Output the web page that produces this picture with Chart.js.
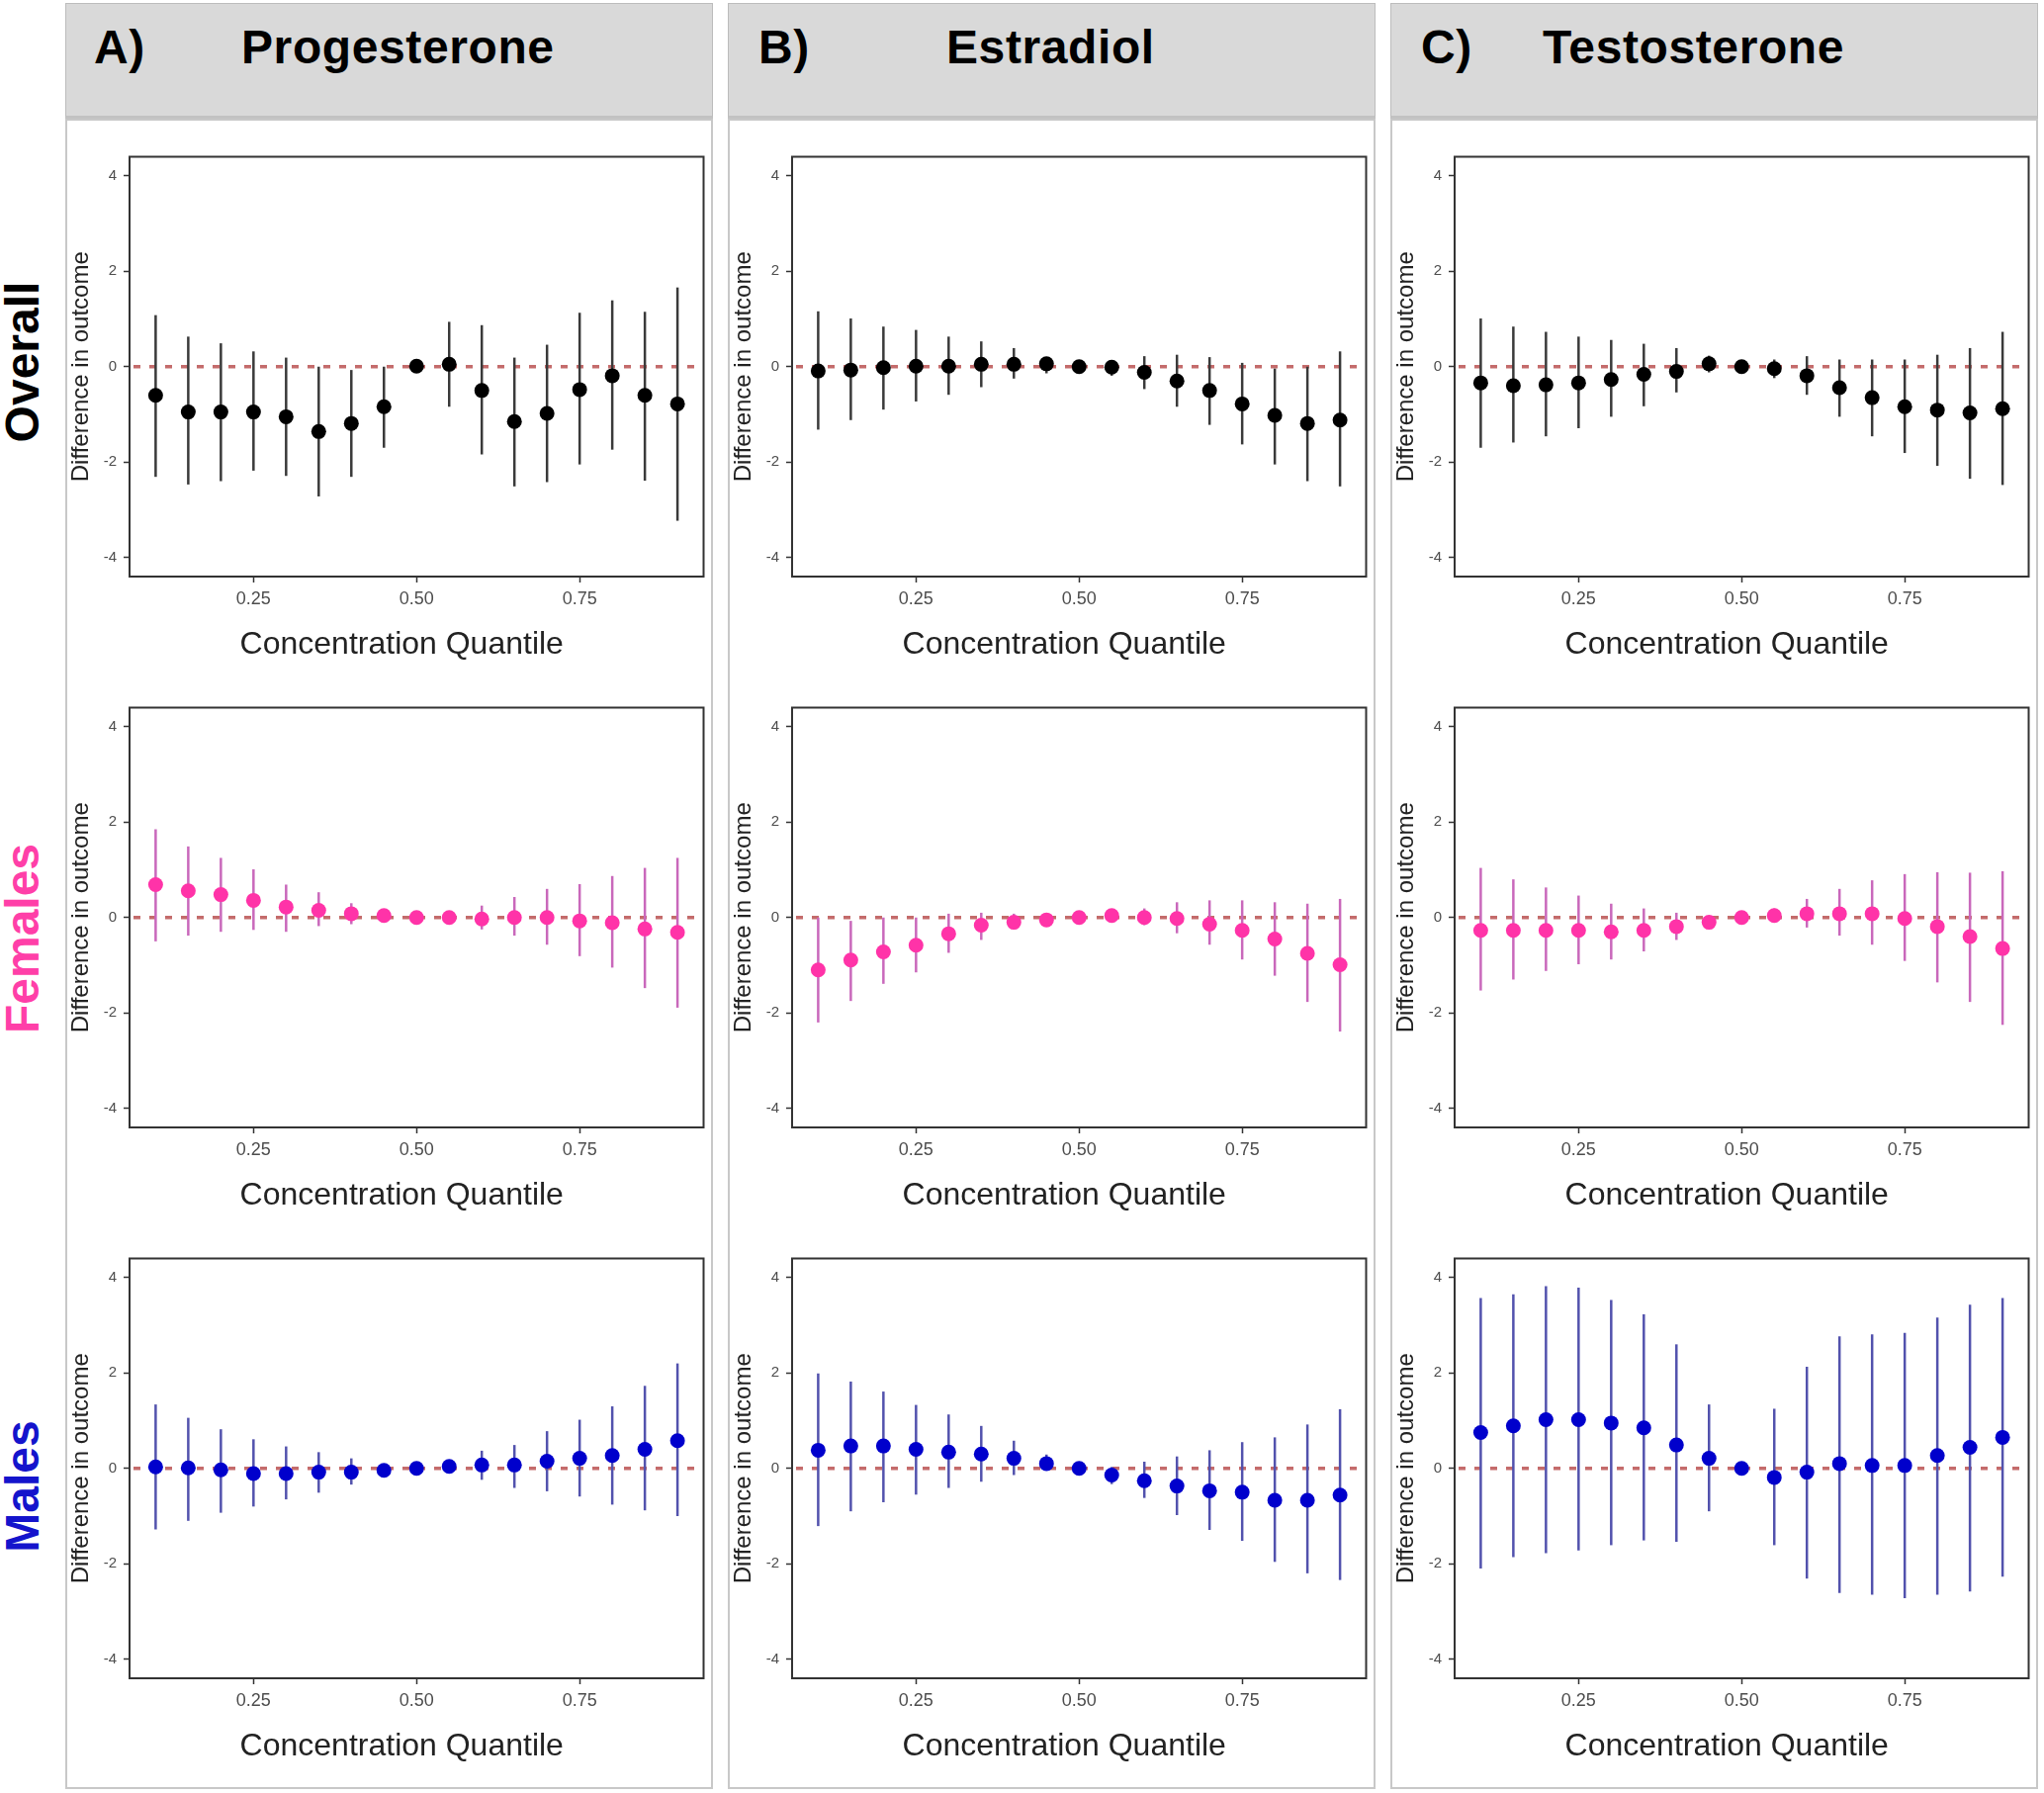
<!DOCTYPE html>
<html>
<head>
<meta charset="utf-8">
<title>Hormone quantile effects</title>
<script src="https://cdn.jsdelivr.net/npm/chart.js@4.4.1/dist/chart.umd.min.js"></script>
<style>
  body {
    margin: 0;
    width: 2067px;
    height: 1813px;
    position: relative;
    overflow: hidden;
    background: #fff;
    font-family: "Liberation Sans", Arial, sans-serif;
  }
  .head {
    position: absolute;
    top: 3px;
    width: 653px;
    height: 113px;
    background: #d9d9d9;
    border: 1px solid #bcbcbc;
    border-bottom: 3px solid #c2c2c2;
  }
  .head span {
    position: absolute;
    top: 20px;
    font-size: 48px;
    line-height: 48px;
    font-weight: bold;
    letter-spacing: 0.6px;
    color: #000;
  }
  .col {
    position: absolute;
    top: 120px;
    width: 651px;
    height: 1685px;
    border: 2px solid #c8c8c8;
  }
  .rowlab {
    position: absolute;
    width: 300px;
    height: 60px;
    line-height: 60px;
    text-align: center;
    font-size: 48px;
    font-weight: bold;
    transform: rotate(-90deg);
  }
  canvas {
    position: absolute;
  }
</style>
</head>
<body>

<div class="col" style="left:66px"></div>
<div class="col" style="left:736px"></div>
<div class="col" style="left:1406px"></div>

<div class="head" style="left:66px"><span style="left:28px">A)</span><span style="left:177px">Progesterone</span></div>
<div class="head" style="left:736px"><span style="left:30px">B)</span><span style="left:220px">Estradiol</span></div>
<div class="head" style="left:1406px"><span style="left:30px">C)</span><span style="left:153px">Testosterone</span></div>

<div class="rowlab" style="left:-127px; top:336px; color:#000">Overall</div>
<div class="rowlab" style="left:-127px; top:919px; color:#ff3fa8">Females</div>
<div class="rowlab" style="left:-127px; top:1473px; color:#1414cc">Males</div>

<script>
const quantiles = [0.10, 0.15, 0.20, 0.25, 0.30, 0.35, 0.40, 0.45, 0.50, 0.55, 0.60, 0.65, 0.70, 0.75, 0.80, 0.85, 0.90];
const xTicks = [0.25, 0.50, 0.75];
const yTicks = [-4, -2, 0, 2, 4];

// Overall
const progOverallEst = [-0.60, -0.95, -0.95, -0.95, -1.05, -1.36, -1.19, -0.84, 0.01, 0.05, -0.50, -1.15, -0.98, -0.48, -0.19, -0.60, -0.78];
const progOverallLo  = [-2.31, -2.47, -2.40, -2.18, -2.29, -2.72, -2.31, -1.70, 0.00, -0.84, -1.84, -2.51, -2.42, -2.05, -1.74, -2.39, -3.23];
const progOverallHi  = [1.08, 0.63, 0.49, 0.32, 0.19, 0.00, -0.07, 0.00, 0.02, 0.94, 0.87, 0.19, 0.46, 1.13, 1.39, 1.15, 1.66];

const estrOverallEst = [-0.09, -0.07, -0.02, 0.01, 0.01, 0.05, 0.05, 0.06, 0.00, -0.01, -0.12, -0.30, -0.50, -0.78, -1.02, -1.19, -1.12];
const estrOverallLo  = [-1.32, -1.12, -0.90, -0.73, -0.59, -0.43, -0.25, -0.14, 0.00, -0.19, -0.47, -0.84, -1.22, -1.63, -2.05, -2.40, -2.51];
const estrOverallHi  = [1.16, 1.01, 0.84, 0.77, 0.63, 0.53, 0.39, 0.19, 0.00, 0.13, 0.22, 0.25, 0.20, 0.08, -0.04, 0.00, 0.32];

const testOverallEst = [-0.34, -0.40, -0.38, -0.34, -0.27, -0.16, -0.10, 0.06, 0.00, -0.04, -0.19, -0.44, -0.65, -0.84, -0.91, -0.97, -0.88];
const testOverallLo  = [-1.70, -1.59, -1.46, -1.29, -1.05, -0.83, -0.54, -0.12, 0.00, -0.24, -0.59, -1.05, -1.46, -1.81, -2.08, -2.35, -2.48];
const testOverallHi  = [1.01, 0.84, 0.73, 0.63, 0.56, 0.48, 0.39, 0.23, 0.00, 0.15, 0.22, 0.15, 0.15, 0.15, 0.25, 0.39, 0.73];

// Females
const progFemEst = [0.69, 0.56, 0.48, 0.36, 0.22, 0.15, 0.08, 0.04, 0.00, 0.00, -0.03, 0.00, 0.00, -0.07, -0.11, -0.24, -0.31];
const progFemLo  = [-0.50, -0.38, -0.30, -0.26, -0.30, -0.18, -0.14, -0.07, 0.00, -0.10, -0.25, -0.38, -0.57, -0.81, -1.05, -1.48, -1.89];
const progFemHi  = [1.85, 1.49, 1.25, 1.01, 0.69, 0.53, 0.30, 0.15, 0.00, 0.10, 0.25, 0.43, 0.60, 0.70, 0.87, 1.04, 1.25];

const estrFemEst = [-1.10, -0.89, -0.72, -0.58, -0.34, -0.16, -0.10, -0.05, 0.00, 0.04, 0.00, -0.02, -0.14, -0.27, -0.45, -0.75, -0.99];
const estrFemLo  = [-2.20, -1.75, -1.39, -1.15, -0.74, -0.47, -0.25, -0.10, 0.00, -0.05, -0.16, -0.33, -0.57, -0.88, -1.22, -1.77, -2.39];
const estrFemHi  = [0.00, -0.07, 0.00, 0.00, 0.08, 0.10, 0.08, 0.00, 0.00, 0.12, 0.19, 0.32, 0.36, 0.36, 0.32, 0.29, 0.39];

const testFemEst = [-0.27, -0.27, -0.27, -0.27, -0.30, -0.27, -0.19, -0.10, 0.00, 0.04, 0.08, 0.08, 0.08, -0.02, -0.19, -0.40, -0.65];
const testFemLo  = [-1.53, -1.30, -1.12, -0.98, -0.88, -0.71, -0.47, -0.18, 0.00, -0.09, -0.21, -0.38, -0.57, -0.91, -1.36, -1.77, -2.25];
const testFemHi  = [1.04, 0.80, 0.63, 0.46, 0.29, 0.19, 0.10, -0.02, 0.00, 0.19, 0.39, 0.60, 0.78, 0.91, 0.95, 0.94, 0.97];

// Males
const progMaleEst = [0.03, 0.01, -0.03, -0.11, -0.11, -0.08, -0.08, -0.04, 0.00, 0.04, 0.07, 0.07, 0.15, 0.21, 0.27, 0.40, 0.58];
const progMaleLo  = [-1.28, -1.10, -0.93, -0.80, -0.65, -0.51, -0.34, -0.12, 0.00, -0.06, -0.24, -0.41, -0.48, -0.59, -0.76, -0.88, -1.00];
const progMaleHi  = [1.34, 1.06, 0.82, 0.61, 0.46, 0.34, 0.21, 0.06, 0.00, 0.14, 0.37, 0.49, 0.78, 1.02, 1.30, 1.73, 2.20];

const estrMaleEst = [0.38, 0.47, 0.47, 0.40, 0.34, 0.30, 0.21, 0.10, 0.00, -0.14, -0.26, -0.37, -0.47, -0.50, -0.67, -0.67, -0.56];
const estrMaleLo  = [-1.21, -0.90, -0.71, -0.55, -0.41, -0.28, -0.14, -0.02, 0.00, -0.33, -0.62, -0.98, -1.29, -1.52, -1.96, -2.20, -2.34];
const estrMaleHi  = [1.99, 1.82, 1.61, 1.33, 1.13, 0.89, 0.58, 0.29, 0.00, 0.03, 0.14, 0.25, 0.38, 0.55, 0.65, 0.92, 1.24];

const testMaleEst = [0.75, 0.89, 1.02, 1.02, 0.95, 0.85, 0.49, 0.21, 0.00, -0.19, -0.08, 0.10, 0.06, 0.06, 0.27, 0.44, 0.65];
const testMaleLo  = [-2.10, -1.86, -1.78, -1.72, -1.61, -1.51, -1.54, -0.90, 0.00, -1.61, -2.31, -2.61, -2.65, -2.72, -2.65, -2.58, -2.27];
const testMaleHi  = [3.57, 3.65, 3.82, 3.79, 3.53, 3.23, 2.60, 1.34, 0.00, 1.25, 2.13, 2.77, 2.81, 2.84, 3.16, 3.43, 3.57];

const groupColors = [
  { point: '#000000', bar: '#3a3a3a' },
  { point: '#ff33a8', bar: '#c968bb' },
  { point: '#0000cc', bar: '#5252ad' }
];

const panels = [
  [progOverallEst, progOverallLo, progOverallHi],
  [estrOverallEst, estrOverallLo, estrOverallHi],
  [testOverallEst, testOverallLo, testOverallHi],
  [progFemEst, progFemLo, progFemHi],
  [estrFemEst, estrFemLo, estrFemHi],
  [testFemEst, testFemLo, testFemHi],
  [progMaleEst, progMaleLo, progMaleHi],
  [estrMaleEst, estrMaleLo, estrMaleHi],
  [testMaleEst, testMaleLo, testMaleHi]
];

// where each plot box sits on the page
const plotLefts = [131, 801, 1471];
const plotTops = [157, 714, 1271];
const plotW = 582;
const plotH = 426;
const yAxisW = 70;
const xAxisH = 90;
const padTop = 6;
const padRight = 6;

// zero line, error bars, frame and x title
const errorBars = {
  id: 'errorBars',
  beforeDatasetsDraw(chart, args, opts) {
    const { ctx, chartArea, scales: { x, y } } = chart;
    const zeroY = y.getPixelForValue(0);

    ctx.save();
    ctx.strokeStyle = '#c46b6b';
    ctx.lineWidth = 3.5;
    ctx.setLineDash([7, 9]);
    ctx.beginPath();
    ctx.moveTo(chartArea.left + 4, zeroY);
    ctx.lineTo(chartArea.right, zeroY);
    ctx.stroke();
    ctx.setLineDash([]);

    ctx.strokeStyle = opts.color;
    ctx.lineWidth = 2.5;
    chart.data.datasets[0].data.forEach(function (p) {
      const px = x.getPixelForValue(p.x);
      ctx.beginPath();
      ctx.moveTo(px, y.getPixelForValue(p.lo));
      ctx.lineTo(px, y.getPixelForValue(p.hi));
      ctx.stroke();
    });
    ctx.restore();
  },
  afterDraw(chart) {
    const { ctx, chartArea } = chart;
    ctx.save();
    ctx.strokeStyle = '#333';
    ctx.lineWidth = 2;
    ctx.strokeRect(chartArea.left, chartArea.top, chartArea.right - chartArea.left, chartArea.bottom - chartArea.top);

    // the ggplot title sits a little left of centre
    ctx.fillStyle = '#222';
    ctx.font = '32px "Liberation Sans"';
    ctx.textAlign = 'center';
    ctx.textBaseline = 'middle';
    ctx.fillText('Concentration Quantile', (chartArea.left + chartArea.right) / 2 - 15, chartArea.bottom + 69);
    ctx.restore();
  }
};

function makePanel(index) {
  const row = Math.floor(index / 3);
  const col = index % 3;
  const [est, lo, hi] = panels[index];
  const colors = groupColors[row];

  const canvas = document.createElement('canvas');
  canvas.width = yAxisW + plotW + padRight;
  canvas.height = padTop + plotH + xAxisH;
  canvas.style.left = (plotLefts[col] - yAxisW) + 'px';
  canvas.style.top = (plotTops[row] - padTop) + 'px';
  document.body.appendChild(canvas);

  const points = quantiles.map(function (q, i) {
    return { x: q, y: est[i], lo: lo[i], hi: hi[i] };
  });

  new Chart(canvas.getContext('2d'), {
    type: 'scatter',
    data: {
      datasets: [{
        label: 'Difference in outcome',
        data: points,
        pointRadius: 7.5,
        pointBackgroundColor: colors.point,
        pointBorderWidth: 0,
        showLine: false
      }]
    },
    options: {
      responsive: false,
      animation: false,
      devicePixelRatio: 1,
      layout: { padding: { top: padTop, right: padRight, left: 0, bottom: 0 } },
      plugins: {
        legend: { display: false },
        tooltip: { enabled: false },
        errorBars: { color: colors.bar }
      },
      scales: {
        x: {
          type: 'linear',
          min: 0.06,
          max: 0.94,
          afterBuildTicks: function (scale) {
            scale.ticks = xTicks.map(function (v) { return { value: v }; });
          },
          afterFit: function (scale) {
            scale.height = xAxisH;
            scale.paddingLeft = 0;
            scale.paddingRight = 0;
          },
          border: { display: false },
          grid: { drawOnChartArea: false, drawTicks: true, tickLength: 6, tickColor: '#333', tickWidth: 1.5 },
          ticks: {
            padding: 6,
            color: '#4d4d4d',
            font: { family: 'Liberation Sans', size: 18 },
            callback: function (v) { return Number(v).toFixed(2); }
          },
          title: { display: false }
        },
        y: {
          type: 'linear',
          min: -4.4,
          max: 4.4,
          afterBuildTicks: function (scale) {
            scale.ticks = yTicks.map(function (v) { return { value: v }; });
          },
          afterFit: function (scale) {
            scale.width = yAxisW;
            scale.paddingTop = 0;
            scale.paddingBottom = 0;
          },
          border: { display: false },
          grid: { drawOnChartArea: false, drawTicks: true, tickLength: 6, tickColor: '#333', tickWidth: 1.5 },
          ticks: {
            padding: 7,
            color: '#4d4d4d',
            font: { family: 'Liberation Sans', size: 15 }
          },
          title: {
            display: true,
            text: 'Difference in outcome',
            color: '#222',
            font: { family: 'Liberation Sans', size: 24 },
            padding: { top: 7, bottom: 0 }
          }
        }
      }
    },
    plugins: [errorBars]
  });
}

document.addEventListener('DOMContentLoaded', function () {
  for (let i = 0; i < panels.length; i++) {
    makePanel(i);
  }
});
</script>
</body>
</html>
